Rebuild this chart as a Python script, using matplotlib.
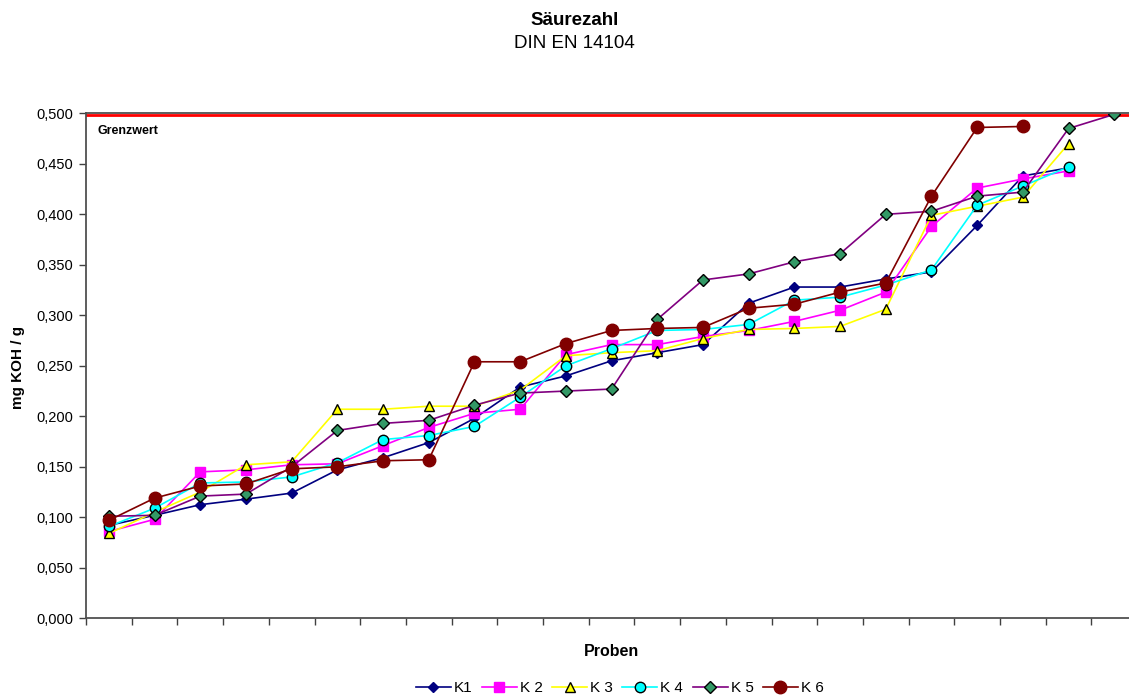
import matplotlib
matplotlib.use("Agg")
import matplotlib.pyplot as plt
import numpy as np

plt.rcParams['font.family'] = ['Liberation Sans', 'DejaVu Sans']

# Säurezahl je Probe, aufsteigend sortiert
k1 = [0.092, 0.102, 0.1125, 0.118, 0.124, 0.147, 0.159, 0.174, 0.198, 0.229, 0.240,
      0.255, 0.263, 0.271, 0.312, 0.328, 0.328, 0.336, 0.343, 0.389, 0.438, 0.446]
k2 = [0.086, 0.098, 0.145, 0.147, 0.152, 0.153, 0.171, 0.189, 0.203, 0.207, 0.261,
      0.271, 0.271, 0.279, 0.285, 0.294, 0.305, 0.323, 0.388, 0.426, 0.435, 0.443]
k3 = [0.084, 0.105, 0.125, 0.152, 0.155, 0.207, 0.207, 0.210, 0.210, 0.226, 0.260,
      0.263, 0.265, 0.277, 0.286, 0.287, 0.289, 0.306, 0.399, 0.408, 0.417, 0.470]
k4 = [0.091, 0.109, 0.134, 0.135, 0.140, 0.154, 0.177, 0.181, 0.190, 0.219, 0.250,
      0.267, 0.285, 0.286, 0.291, 0.315, 0.318, 0.330, 0.345, 0.409, 0.428, 0.447]
k5 = [0.101, 0.102, 0.121, 0.123, 0.150, 0.186, 0.193, 0.196, 0.211, 0.223, 0.225,
      0.227, 0.296, 0.335, 0.341, 0.353, 0.361, 0.400, 0.403, 0.418, 0.422, 0.485, 0.499]
k6 = [0.097, 0.119, 0.131, 0.133, 0.148, 0.150, 0.156, 0.157, 0.254, 0.254, 0.272,
      0.285, 0.287, 0.288, 0.307, 0.311, 0.323, 0.332, 0.418, 0.486, 0.487]

n_proben = 23
grenzwert = 0.498
y_ticks = [0.0, 0.05, 0.1, 0.15, 0.2, 0.25, 0.3, 0.35, 0.4, 0.45, 0.5]

# (label, daten, linie, marker, face, edge, groesse)
series = [
    ("K1", k1, "#000080", "D", "#000080", "#000080", 5),
    ("K 2", k2, "#FF00FF", "s", "#FF00FF", "#FF00FF", 7),
    ("K 3", k3, "#FFFF00", "^", "#FFFF00", "#000000", 7.5),
    ("K 4", k4, "#00FFFF", "o", "#00FFFF", "#000000", 7.5),
    ("K 5", k5, "#800080", "D", "#339966", "#000000", 6),
    ("K 6", k6, "#800000", "o", "#800000", "#800000", 9),
]

fig = plt.figure(figsize=(11.29, 6.97), dpi=100)
ax = fig.add_axes([0.0762, 0.1129, 0.931, 0.7245])

for label, vals, lc, mk, fc, ec, ms in series:
    ax.plot(np.arange(len(vals)), vals, color=lc, lw=1.2, marker=mk,
            markerfacecolor=fc, markeredgecolor=ec, markeredgewidth=1.0,
            markersize=ms, label=label)

ax.axhline(grenzwert, color="#FF0000", lw=2.0, zorder=1)
ax.text(0.011, 0.483, "Grenzwert", fontsize=9, fontweight="bold",
        transform=ax.get_yaxis_transform(), va="center")

ax.set_xlim(-0.5, n_proben - 0.5)
ax.set_ylim(0, 0.5)
ax.set_xticks(np.arange(n_proben + 1) - 0.5)
ax.set_xticklabels([])
ax.set_yticks(y_ticks)
ax.set_yticklabels([f"{v:.3f}".replace(".", ",") for v in y_ticks], fontsize=10.5)
ax.tick_params(axis="both", direction="out", length=5, width=1, color="#404040")
ax.tick_params(axis="y", pad=4)

for side in ("left", "bottom", "top"):
    ax.spines[side].set_color("#505050")
    ax.spines[side].set_linewidth(1.3)
ax.spines["right"].set_visible(False)

ax.set_ylabel("mg KOH / g", fontsize=11, fontweight="bold")
ax.yaxis.set_label_coords(-0.058, 0.497)
ax.set_xlabel("Proben", fontsize=11.5, fontweight="bold", labelpad=10)

fig.text(0.509, 0.971, "Säurezahl", ha="center", va="center",
         fontsize=13.5, fontweight="bold")
fig.text(0.509, 0.937, "DIN EN 14104", ha="center", va="center", fontsize=13.5)

fig.legend(loc="center", bbox_to_anchor=(0.549, 0.013), ncol=6, frameon=False,
           fontsize=11, handlelength=2.3, handletextpad=0.2, columnspacing=0.6,
           borderaxespad=0)

fig.savefig("out.png", dpi=100)
